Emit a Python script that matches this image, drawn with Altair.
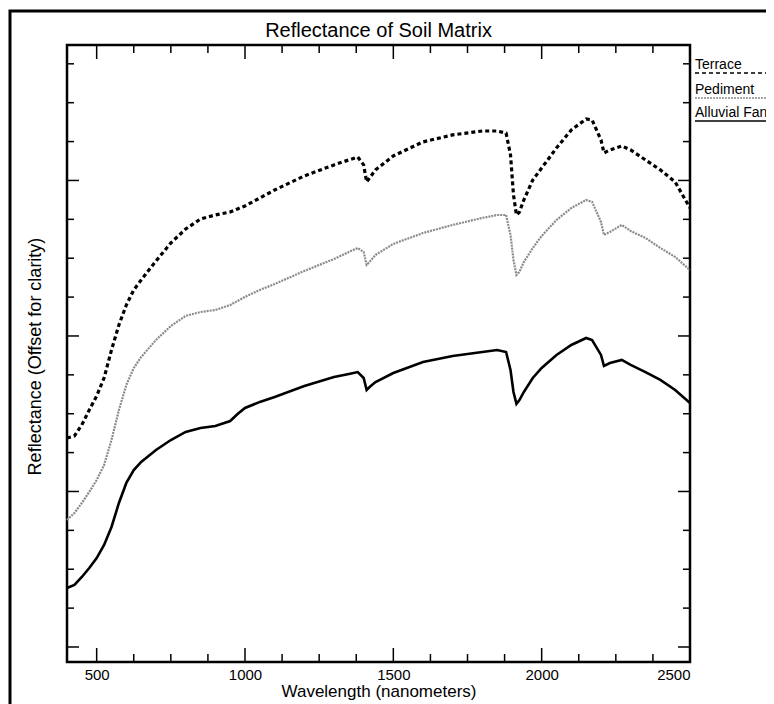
import altair as alt
import pandas as pd

# ---------------- data ----------------
wavelength = [400, 425, 450, 475, 500, 525, 550, 575, 600, 625, 650,
              700, 750, 800, 850, 900, 950, 975, 1000,
              1050, 1100, 1200, 1300, 1350, 1380, 1400, 1410, 1420, 1440,
              1500, 1600, 1700, 1800, 1850, 1880, 1895, 1905, 1915, 1925,
              1940, 1970, 2000, 2050, 2100, 2150, 2170, 2200, 2210, 2230,
              2270, 2300, 2350, 2400, 2450, 2500]

terrace = [23.44, 23.57, 24.28, 25.24, 26.14, 27.30, 29.10, 30.71, 31.99, 32.96, 33.60,
           34.82, 35.98, 36.88, 37.52, 37.78, 37.97, 38.17, 38.36,
           38.87, 39.39, 40.29, 41.00, 41.32, 41.51, 41.00, 39.90, 40.16, 40.68,
           41.58, 42.48, 42.93, 43.18, 43.18, 43.05, 41.64, 39.07, 37.78, 37.97,
           38.75, 40.03, 40.80, 42.09, 43.25, 43.95, 43.89, 42.60, 41.77, 41.96,
           42.22, 41.96, 41.32, 40.68, 39.90, 38.23]

pediment = [18.17, 18.62, 19.26, 19.97, 20.74, 21.70, 23.31, 25.24, 26.85, 27.94, 28.65,
            29.74, 30.64, 31.29, 31.54, 31.67, 31.99, 32.25, 32.51,
            32.96, 33.34, 34.18, 34.95, 35.40, 35.66, 35.40, 34.57, 34.76, 35.21,
            35.92, 36.62, 37.14, 37.59, 37.78, 37.78, 36.50, 34.89, 33.92, 34.12,
            34.76, 35.66, 36.43, 37.46, 38.23, 38.75, 38.62, 37.33, 36.50, 36.69,
            37.14, 36.75, 36.30, 35.66, 35.08, 34.24]

alluvial_fan = [13.79, 13.99, 14.50, 15.08, 15.72, 16.56, 17.72, 19.26, 20.55, 21.38, 21.90,
                22.67, 23.31, 23.83, 24.08, 24.21, 24.53, 24.98, 25.37,
                25.76, 26.08, 26.78, 27.36, 27.56, 27.68, 27.30, 26.53, 26.72, 27.04,
                27.62, 28.33, 28.71, 28.97, 29.10, 28.97, 27.81, 26.40, 25.63, 25.88,
                26.40, 27.30, 27.94, 28.78, 29.42, 29.87, 29.74, 28.78, 28.07, 28.26,
                28.46, 28.14, 27.68, 27.17, 26.53, 25.69]

legend_labels = ["Terrace", "Pediment", "Alluvial Fan"]
chart_title = "Reflectance of Soil Matrix"

x_major = [500, 1000, 1500, 2000, 2500]
x_minor = [625, 750, 875, 1125, 1250, 1375, 1625, 1750, 1875, 2125, 2250, 2375]
y_major = [10, 20, 30, 40]
y_minor = [12.5, 15, 17.5, 22.5, 25, 27.5, 32.5, 35, 37.5, 42.5, 45, 47.5]

# ---------------- layout ----------------
W, H = 623, 617
FONT = "Liberation Sans"

xscale = alt.Scale(domain=[400, 2500], nice=False, zero=False)
yscale = alt.Scale(domain=[9.035, 48.71], nice=False, zero=False)

x_axis = alt.Axis(values=x_major, format="d", labels=True, ticks=False, tickSize=0,
                  domain=False, grid=False, labelFontSize=15, labelPadding=5,
                  labelColor="black", labelFont=FONT,
                  title="Wavelength (nanometers)", titleFontSize=17,
                  titleFontWeight="normal", titleFont=FONT, titleColor="black",
                  titleY=21, titleBaseline="top")
y_axis = alt.Axis(labels=False, ticks=False, tickSize=0, domain=False, grid=False,
                  title="Reflectance (Offset for clarity)", titleFontSize=18,
                  titleFontWeight="normal", titleFont=FONT, titleColor="black",
                  titleX=-32, titleY=311, titleBaseline="middle")

X_WL = alt.X("wavelength:Q", scale=xscale, axis=x_axis)
Y_RF = alt.Y("reflectance:Q", scale=yscale, axis=y_axis)


def series_df(values):
    return pd.DataFrame({"wavelength": wavelength, "reflectance": values})


terrace_line = alt.Chart(series_df(terrace)).mark_line(
    color="black", strokeWidth=3.2, strokeDash=[4, 3]
).encode(x=X_WL, y=Y_RF)

pediment_line = alt.Chart(series_df(pediment)).mark_line(
    color="#8a8a8a", strokeWidth=2.2, strokeDash=[2, 1]
).encode(x=X_WL, y=Y_RF)

alluvial_line = alt.Chart(series_df(alluvial_fan)).mark_line(
    color="black", strokeWidth=2.6
).encode(x=X_WL, y=Y_RF)


# ---------------- inward ticks ----------------
def xticks(vals, length, top):
    df = pd.DataFrame({"wavelength": vals})
    if top:
        enc = dict(y=alt.value(0), y2=alt.value(length))
    else:
        enc = dict(y=alt.value(H), y2=alt.value(H - length))
    return alt.Chart(df).mark_rule(color="black", strokeWidth=1.5).encode(x=X_WL, **enc)


def yticks(vals, length, right):
    df = pd.DataFrame({"reflectance": vals})
    if right:
        enc = dict(x=alt.value(W), x2=alt.value(W - length))
    else:
        enc = dict(x=alt.value(0), x2=alt.value(length))
    return alt.Chart(df).mark_rule(color="black", strokeWidth=1.5).encode(y=Y_RF, **enc)


tick_layers = [
    xticks(x_major, 14, False), xticks(x_minor, 8, False),
    xticks(x_major, 14, True), xticks(x_minor, 8, True),
    yticks(y_major, 12, False), yticks(y_minor, 7, False),
    yticks(y_major, 12, True), yticks(y_minor, 7, True),
]

# ---------------- title as text ----------------
title_layer = alt.Chart(alt.Data(values=[{"t": chart_title}])).mark_text(
    align="center", baseline="alphabetic", fontSize=20, font=FONT, color="black"
).encode(x=alt.value(W / 2), y=alt.value(-8), text="t:N")

# ---------------- legend (text at right of the frame) ----------------
legend_y = [20, 45, 68]
legend_styles = [dict(color="black", strokeDash=[4, 3]),
                 dict(color="#8a8a8a", strokeDash=[2, 1]),
                 dict(color="black")]
legend_layers = []
for label, ly, style in zip(legend_labels, legend_y, legend_styles):
    legend_layers.append(
        alt.Chart(alt.Data(values=[{"label": label}])).mark_text(
            align="left", baseline="middle", fontSize=14, font=FONT, color="black"
        ).encode(x=alt.value(W + 5), y=alt.value(ly), text="label:N")
    )
    legend_layers.append(
        alt.Chart(alt.Data(values=[{"label": label}])).mark_rule(strokeWidth=1.3, **style)
        .encode(x=alt.value(W + 5), x2=alt.value(W + 95), y=alt.value(ly + 8))
    )

# ---------------- outer border of the figure ----------------
border = alt.Chart(alt.Data(values=[{"b": 1}])).mark_rect(
    fillOpacity=0, stroke="black", strokeWidth=3
).encode(x=alt.value(-57), x2=alt.value(W + 300), y=alt.value(-34), y2=alt.value(H + 300))

chart = alt.layer(
    terrace_line, pediment_line, alluvial_line, *tick_layers, title_layer,
    *legend_layers, border
).properties(
    width=W, height=H,
    autosize=alt.AutoSizeParams(type="none"),
    padding={"left": 59, "top": 37, "right": 76, "bottom": 42},
).configure(
    font=FONT, background="white",
    view=alt.ViewConfig(stroke="black", strokeWidth=2.5),
)

chart.save("out.html", embed_options={"renderer": "svg", "actions": False})
